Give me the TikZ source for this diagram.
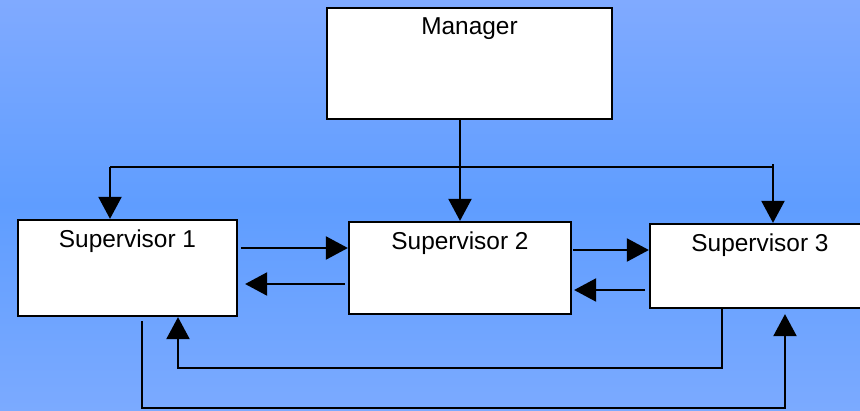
\documentclass[tikz,border=0pt]{standalone}
\usepackage{fontspec}
\setmainfont{Liberation Sans}
\usepackage{xcolor}
\usetikzlibrary{arrows.meta}
\usetikzlibrary{calc}
\usetikzlibrary{positioning}

\definecolor{skytop}{RGB}{128,170,255}
\definecolor{skymid}{RGB}{95,157,255}
\definecolor{skybot}{RGB}{123,170,255}

\begin{document}
\begin{tikzpicture}[x=0.02cm,y=-0.02cm,-,line width=1.25pt,node distance=0.2cm,>={Triangle[length=0.44cm,width=0.46cm]}]
	\tikzstyle{box}=[rectangle, draw=black, fill=white, line width=1.3pt]
	\tikzstyle{title}=[inner sep=0pt, text=black, font=\fontsize{13.9}{16}\selectfont]
	\shade[top color=skytop, bottom color=skybot, middle color=skymid] (0,0) rectangle (860,410);
	\useasboundingbox (0,0) rectangle (860,410);

		\node[box, minimum width=5.7cm, minimum height=2.22cm] (M) at (469.5,63.5) {};
		\node[box, minimum width=4.38cm, minimum height=1.92cm] (S1) at (127.5,268) {};
		\node[box, minimum width=4.44cm, minimum height=1.84cm] (S2) at (460,268) {};
		\node[box, minimum width=4.4cm, minimum height=1.68cm] (S3) at (760,266) {};

		\node[title, below=of M.north] (T0) {Manager};
		\foreach \i in {1,...,3}{
			\node[title, below=of S\i.north] (T\i) {Supervisor \i};
			}

		% manager to the three supervisors
		\coordinate (b1) at (110,167);
		\coordinate (b3) at (773,167);
		\draw[->] (M.south -| S2.north) -- (S2.north);
		\draw (b1) -- (b3);
		\draw[->] (b1) -- (b1 |- S1.north);
		\draw[->] ([yshift=0.06cm]b3) -- (b3 |- S3.north);

		% between neighbours
		\coordinate (a12) at (241,248);
		\coordinate (a21) at (345,284);
		\coordinate (a23) at (573,250);
		\coordinate (a32) at (645,290);
		\draw[->] (a12) -- (a12 -| S2.west);
		\draw[->] (a21) -- ([xshift=0.14cm]a21 -| S1.east);
		\draw[->] (a23) -- (a23 -| S3.west);
		\draw[->] (a32) -- ([xshift=0.04cm]a32 -| S2.east);

		% loops underneath
		\coordinate (l3) at (722,368);
		\coordinate (l1) at (178,368);
		\coordinate (r1) at (142,408);
		\coordinate (r3) at (785,408);
		\draw[->] (l3 |- S3.south) -- (l3) -- (l1) -- (l1 |- S1.south);
		\draw[->] ([yshift=-0.08cm]r1 |- S1.south) -- (r1) -- (r3) -- ([yshift=-0.1cm]r3 |- S3.south);
\end{tikzpicture}
\end{document}
